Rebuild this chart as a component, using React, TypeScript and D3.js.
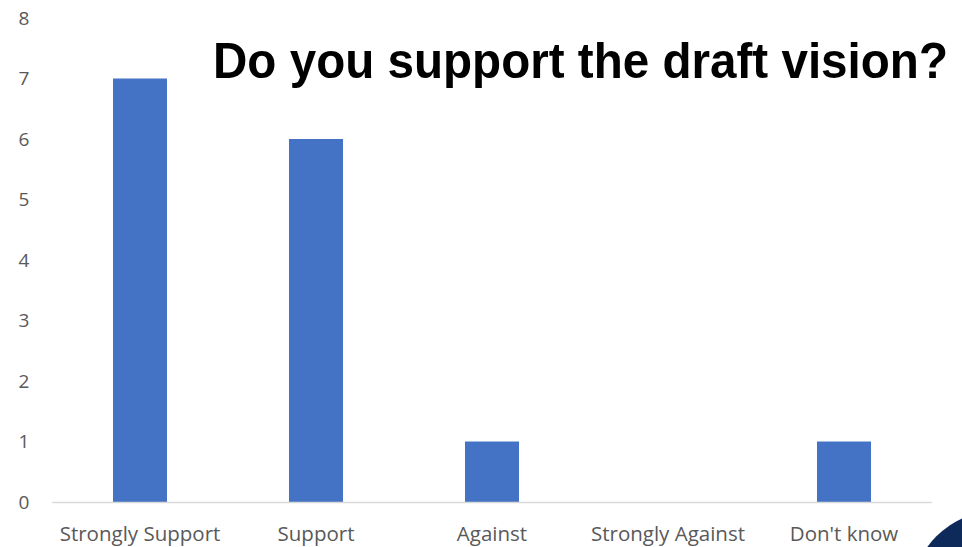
import React from "react";
import * as d3 from "d3";

const categories = ["Strongly Support", "Support", "Against", "Strongly Against", "Don't know"];
const values = [7, 6, 1, 0, 1];
const yTicks = [0, 1, 2, 3, 4, 5, 6, 7, 8];
const title = "Do you support the draft vision?";

export default function App() {
  const W = 962, H = 547;
  const x = d3.scaleBand<string>().domain(categories).range([52, 932]).paddingInner(0.693).paddingOuter(0.3465);
  const y = d3.scaleLinear().domain([0, 8]).range([502, 18]);
  return (
    <svg width={W} height={H} style={{ position: "absolute", left: 0, top: 0 }}>
      <rect width={W} height={H} fill="#fff" />
      {yTicks.map((t) => (
        <text key={t} x={24} y={y(t)} dy="0.36em" textAnchor="middle" fontFamily="Open Sans, sans-serif" fontSize={19} fill="#595959">
          {t}
        </text>
      ))}
      {categories.map((c, i) => (
        <rect key={c} x={x(c)} y={y(values[i])} width={x.bandwidth()} height={y(0) - y(values[i])} fill="#4472C4" />
      ))}
      <line x1={52} x2={932} y1={y(0) + 0.5} y2={y(0) + 0.5} stroke="#D9D9D9" strokeWidth={1.5} />
      {categories.map((c) => (
        <text key={c} x={(x(c) as number) + x.bandwidth() / 2} y={541} textAnchor="middle" fontFamily="Open Sans, sans-serif" fontSize={20.5} fill="#595959">
          {c}
        </text>
      ))}
      <g transform="translate(213,78) scale(1,1.13)">
        <text x={0} y={0} fontFamily="Liberation Sans, Arial, sans-serif" fontWeight="bold" fontSize={44} textLength={735} lengthAdjust="spacingAndGlyphs" fill="#000">
          {title}
        </text>
      </g>
      <circle cx={1000} cy={600} r={90} fill="#0E2A5A" />
    </svg>
  );
}
